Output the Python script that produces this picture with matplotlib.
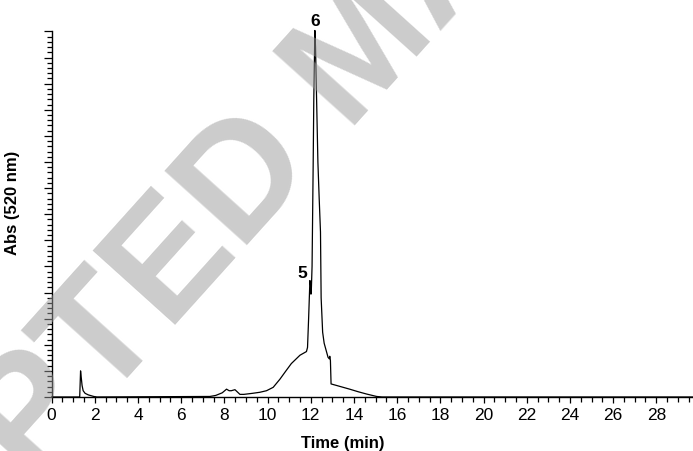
import matplotlib
matplotlib.use("Agg")
import matplotlib.pyplot as plt
from matplotlib.ticker import MultipleLocator

# Chromatogram trace (time in min, absorbance in arbitrary units)
time_min = [0.0, 1.30, 1.34, 1.37, 1.41, 1.46, 1.55, 1.70, 1.95, 2.1,
            7.33, 7.6, 7.9, 8.1, 8.22, 8.32, 8.49, 8.72, 8.9, 9.3, 9.64,
            9.95, 10.26, 10.57, 10.85, 11.1, 11.5, 11.8, 11.85, 11.90,
            11.96, 11.99, 12.01, 12.03, 12.06, 12.11, 12.14, 12.19, 12.22,
            12.27, 12.33, 12.39, 12.45, 12.48, 12.55, 12.62, 12.7, 12.8,
            12.86, 12.88, 12.91, 12.94, 13.2, 13.8, 14.2, 14.58, 15.05,
            15.3, 29.7]
absorb = [0.0, 0.0, 5.0, 3.8, 2.2, 1.2, 0.7, 0.4, 0.1, 0.0,
          0.1, 0.3, 0.8, 1.5, 1.2, 1.2, 1.4, 0.5, 0.5, 0.7, 0.9,
          1.2, 1.85, 3.4, 5.0, 6.4, 8.0, 8.7, 9.5, 15.0,
          22.3, 21.5, 19.7, 21.0, 25.0, 44.0, 57.0, 70.2, 67.0,
          57.0, 45.0, 38.0, 31.6, 19.0, 12.4, 10.3, 9.1, 7.6,
          7.3, 7.8, 7.0, 2.5, 2.2, 1.5, 1.0, 0.57, 0.1,
          0.0, 0.0]

peak_labels = ["5", "6"]
peak_times = [11.62, 12.19]
peak_heights = [23.9, 72.1]

plt.rcParams["font.family"] = ["Liberation Sans", "DejaVu Sans"]

fig = plt.figure(figsize=(6.93, 4.52), dpi=100)
ax = fig.add_axes([0.0745, 0.1195, 0.9255, 0.8086])

ax.plot(time_min, absorb, color="black", linewidth=0.9, clip_on=False)

for lab, t, h in zip(peak_labels, peak_times, peak_heights):
    ax.text(t, h, lab, ha="center", va="center", fontsize=12.5, fontweight="bold")

ax.set_xlim(0, 29.7)
ax.set_ylim(0, 70)
ax.xaxis.set_major_locator(MultipleLocator(2))
ax.xaxis.set_minor_locator(MultipleLocator(0.5))
ax.yaxis.set_major_locator(MultipleLocator(5))
ax.yaxis.set_minor_locator(MultipleLocator(1))
ax.set_yticklabels([])
ax.tick_params(axis="x", which="major", length=4.5, width=0.9, labelsize=12.5, pad=3)
ax.tick_params(axis="x", which="minor", length=3.6, width=0.9)
ax.tick_params(axis="y", which="major", length=5.8, width=0.9)
ax.tick_params(axis="y", which="minor", length=3.6, width=0.9)

for side in ("top", "right"):
    ax.spines[side].set_visible(False)
for side in ("left", "bottom"):
    ax.spines[side].set_linewidth(1.0)

ax.set_xlabel("Time (min)", fontsize=12, fontweight="bold")
ax.xaxis.set_label_coords(0.454, -0.105)
ax.set_ylabel("Abs (520 nm)", fontsize=12, fontweight="bold")
ax.yaxis.set_label_coords(-0.05, 0.535)

# watermark over the page
fig.text(365 / 693, 1 - 52 / 452, "ACCEPTED MANUSCRIPT", fontsize=116,
         fontweight="bold", color="#9a9a9a", alpha=0.5, rotation=48,
         rotation_mode="anchor", ha="center", va="center", zorder=10)

fig.savefig("out.png", dpi=100)
